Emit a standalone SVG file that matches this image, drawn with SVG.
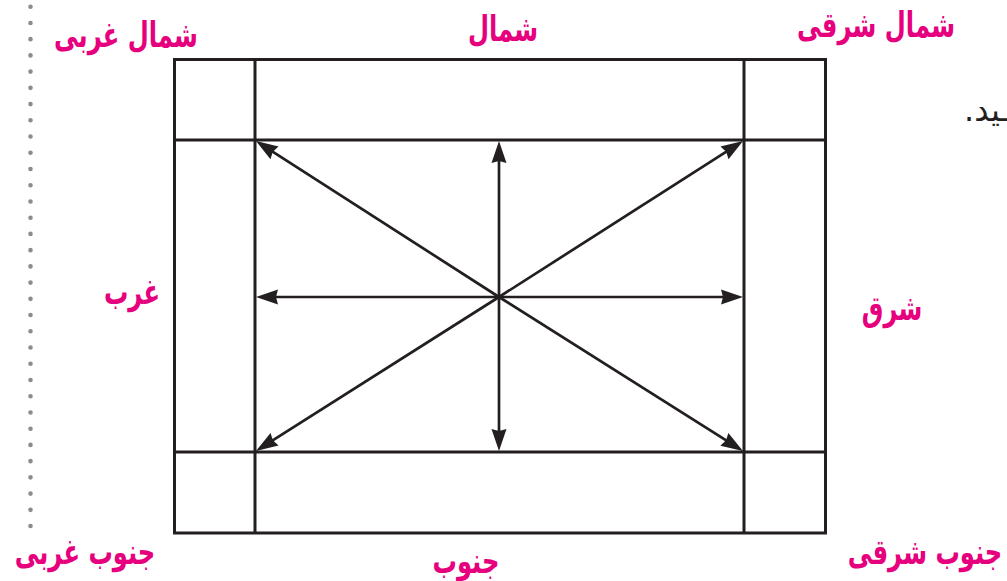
<svg xmlns="http://www.w3.org/2000/svg" width="1007" height="581" viewBox="0 0 1007 581">
<style>
.lbl{font-family:"DejaVu Sans","Noto Sans",sans-serif;font-weight:bold;font-size:25px;fill:#e6007e;text-anchor:middle}
.grid{fill:none;stroke:#231f20;stroke-width:3}
.arr{stroke:#231f20;stroke-width:2.7;fill:none;marker-end:url(#ah)}
</style>
<defs>
<marker id="ah" markerUnits="userSpaceOnUse" viewBox="-24 -9 26 18" markerWidth="26" markerHeight="18" refX="-10" refY="0" orient="auto" overflow="visible">
<path d="M0,0 L-22,-7.5 L-20,0 L-22,7.5 Z" fill="#231f20"/>
</marker>
</defs>
<rect width="1007" height="581" fill="#fff"/>
<line x1="30.5" y1="6.7" x2="30.5" y2="527" stroke="#8c8c8c" stroke-width="4.6" stroke-linecap="round" stroke-dasharray="0 16.23"/>
<g id="frame">
<rect class="grid" x="174.5" y="59.5" width="651" height="473.5" stroke-width="3.3"/>
<line class="grid" x1="255" y1="59.5" x2="255" y2="533"/>
<line class="grid" x1="744" y1="59.5" x2="744" y2="533"/>
<line class="grid" x1="174.5" y1="140" x2="825.5" y2="140"/>
<line class="grid" x1="174.5" y1="452" x2="825.5" y2="452"/>
</g>
<g id="connectors">
<line class="arr" x1="499" y1="297" x2="499" y2="151"/>
<line class="arr" x1="499" y1="297" x2="499" y2="441"/>
<line class="arr" x1="499" y1="297" x2="266" y2="297"/>
<line class="arr" x1="499" y1="297" x2="733" y2="297"/>
<line class="arr" x1="499" y1="297" x2="734.6" y2="146.4"/>
<line class="arr" x1="499" y1="297" x2="264.4" y2="146.4"/>
<line class="arr" x1="499" y1="297" x2="734.5" y2="445.7"/>
<line class="arr" x1="499" y1="297" x2="264.4" y2="445.7"/>
</g>
<g id="n-nw"><text class="lbl" transform="translate(126,47) scale(0.97,1.4)">شمال غربی</text></g>
<g id="n-n"><text class="lbl" transform="translate(503,41) scale(0.97,1.4)">شمال</text></g>
<g id="n-ne"><text class="lbl" transform="translate(876,37) scale(0.97,1.4)">شمال شرقی</text></g>
<g id="n-w"><text class="lbl" transform="translate(132,304) scale(0.97,1.4)">غرب</text></g>
<g id="n-e"><text class="lbl" transform="translate(892,320) scale(0.97,1.4)">شرق</text></g>
<g id="n-sw"><text class="lbl" transform="translate(85,564) scale(0.97,1.4)">جنوب غربی</text></g>
<g id="n-s"><text class="lbl" transform="translate(466,573) scale(0.97,1.4)">جنوب</text></g>
<g id="n-se"><text class="lbl" transform="translate(925,564) scale(0.97,1.4)">جنوب شرقی</text></g>
<text x="1010" y="121" direction="rtl" text-anchor="start" font-family="DejaVu Sans, sans-serif" font-size="32" fill="#231f20">ـید.</text>
</svg>
